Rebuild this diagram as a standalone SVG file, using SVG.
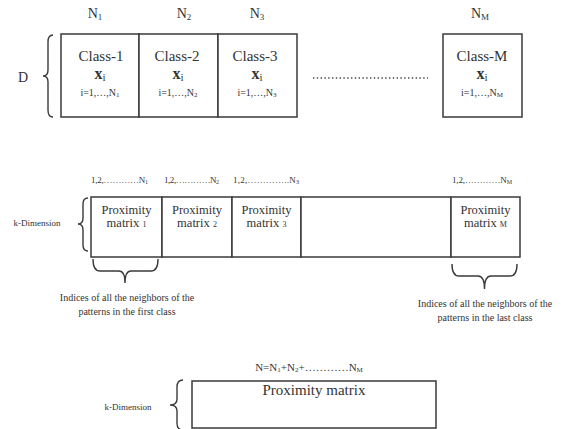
<svg xmlns="http://www.w3.org/2000/svg" width="563" height="429" viewBox="0 0 563 429">
<style>
.box{fill:#fff;stroke:#3a3a3a;stroke-width:1.5}
.br{fill:none;stroke:#3a3a3a;stroke-width:1.4}
</style>
<rect width="563" height="429" fill="#fff"/>

<g id="top-labels" fill="#333" font-family="Liberation Serif" font-size="14" text-anchor="middle">
<text font-family="Liberation Serif" x="95" y="18">N<tspan font-size="9" dy="2">1</tspan></text>
<text font-family="Liberation Serif" x="184" y="18">N<tspan font-size="9" dy="2">2</tspan></text>
<text font-family="Liberation Serif" x="257" y="18">N<tspan font-size="9" dy="2">3</tspan></text>
<text font-family="Liberation Serif" x="480" y="18">N<tspan font-size="9" dy="2">M</tspan></text>
<text font-family="Liberation Serif" x="23" y="82">D</text>
</g>

<g id="class1" fill="#333" font-family="Liberation Serif" text-anchor="middle">
<rect class="box" x="61" y="34" width="78" height="83"/>
<text font-family="Liberation Serif" font-size="15" x="101" y="61">Class-1</text>
<text font-family="Liberation Serif" font-size="16" font-weight="bold" x="100" y="79">x<tspan font-size="11" font-weight="normal" dy="2">i</tspan></text>
<text font-family="Liberation Serif" font-size="10" x="100" y="96">i=1,…,N<tspan font-size="7" dy="1">1</tspan></text>
</g>
<g id="class2" fill="#333" font-family="Liberation Serif" text-anchor="middle">
<rect class="box" x="139" y="34" width="79" height="83"/>
<text font-family="Liberation Serif" font-size="15" x="177" y="61">Class-2</text>
<text font-family="Liberation Serif" font-size="16" font-weight="bold" x="178" y="79">x<tspan font-size="11" font-weight="normal" dy="2">i</tspan></text>
<text font-family="Liberation Serif" font-size="10" x="178" y="96">i=1,…,N<tspan font-size="7" dy="1">2</tspan></text>
</g>
<g id="class3" fill="#333" font-family="Liberation Serif" text-anchor="middle">
<rect class="box" x="218" y="34" width="79" height="83"/>
<text font-family="Liberation Serif" font-size="15" x="255" y="61">Class-3</text>
<text font-family="Liberation Serif" font-size="16" font-weight="bold" x="257" y="79">x<tspan font-size="11" font-weight="normal" dy="2">i</tspan></text>
<text font-family="Liberation Serif" font-size="10" x="257" y="96">i=1,…,N<tspan font-size="7" dy="1">3</tspan></text>
</g>
<g id="classM" fill="#333" font-family="Liberation Serif" text-anchor="middle">
<rect class="box" x="443" y="34" width="79" height="83"/>
<text font-family="Liberation Serif" font-size="15" x="482" y="61">Class-M</text>
<text font-family="Liberation Serif" font-size="16" font-weight="bold" x="482" y="79">x<tspan font-size="11" font-weight="normal" dy="2">i</tspan></text>
<text font-family="Liberation Serif" font-size="10" x="482" y="96">i=1,…,N<tspan font-size="7" dy="1">M</tspan></text>
</g>

<g id="mid-labels" fill="#333" font-family="Liberation Serif" font-size="9">
<text font-family="Liberation Serif" x="91" y="183" textLength="57" lengthAdjust="spacing">1,2,…………N<tspan font-size="6" dy="1">1</tspan></text>
<text font-family="Liberation Serif" x="164" y="183" textLength="55" lengthAdjust="spacing">1,2,…………N<tspan font-size="6" dy="1">2</tspan></text>
<text font-family="Liberation Serif" x="233" y="183" textLength="66" lengthAdjust="spacing">1,2,…………..N<tspan font-size="6" dy="1">3</tspan></text>
<text font-family="Liberation Serif" x="452" y="183" textLength="60" lengthAdjust="spacing">1,2,…………N<tspan font-size="6" dy="1">M</tspan></text>
<text font-family="Liberation Serif" x="37" y="226" text-anchor="middle">k-Dimension</text>
</g>

<g id="pm1" fill="#333" font-family="Liberation Serif" font-size="12.5" text-anchor="middle">
<rect class="box" x="91" y="197" width="71" height="60"/>
<text font-family="Liberation Serif" x="126.5" y="214">Proximity</text>
<text font-family="Liberation Serif" x="126.5" y="227">matrix <tspan font-size="8">1</tspan></text>
</g>
<g id="pm2" fill="#333" font-family="Liberation Serif" font-size="12.5" text-anchor="middle">
<rect class="box" x="162" y="197" width="70" height="60"/>
<text font-family="Liberation Serif" x="197" y="214">Proximity</text>
<text font-family="Liberation Serif" x="197" y="227">matrix <tspan font-size="8">2</tspan></text>
</g>
<g id="pm3" fill="#333" font-family="Liberation Serif" font-size="12.5" text-anchor="middle">
<rect class="box" x="232" y="197" width="69" height="60"/>
<text font-family="Liberation Serif" x="266.5" y="214">Proximity</text>
<text font-family="Liberation Serif" x="266.5" y="227">matrix <tspan font-size="8">3</tspan></text>
</g>
<g id="pm-gap">
<rect class="box" x="301" y="197" width="150" height="60"/>
</g>
<g id="pmM" fill="#333" font-family="Liberation Serif" font-size="12.5" text-anchor="middle">
<rect class="box" x="451" y="197" width="69" height="60"/>
<text font-family="Liberation Serif" x="485.5" y="214">Proximity</text>
<text font-family="Liberation Serif" x="485.5" y="227">matrix <tspan font-size="8">M</tspan></text>
</g>

<g id="annotations" fill="#333" font-family="Liberation Serif" font-size="10" text-anchor="middle">
<text font-family="Liberation Serif" x="127" y="301">Indices of all the neighbors of the</text>
<text font-family="Liberation Serif" x="127" y="315">patterns in the first class</text>
<text font-family="Liberation Serif" x="485" y="307">Indices of all the neighbors of the</text>
<text font-family="Liberation Serif" x="485" y="321">patterns in the last class</text>
</g>

<g id="bottom" fill="#333" font-family="Liberation Serif" text-anchor="middle">
<text font-family="Liberation Serif" x="309" y="371" font-size="11">N=N<tspan font-size="7" dy="1">1</tspan><tspan dy="-1">+N</tspan><tspan font-size="7" dy="1">2</tspan><tspan dy="-1">+…………N</tspan><tspan font-size="7" dy="1">M</tspan></text>
<rect class="box" x="192" y="381" width="244" height="47"/>
<text font-family="Liberation Serif" x="314" y="395" font-size="15">Proximity matrix</text>
<text font-family="Liberation Serif" x="128" y="410" font-size="9">k-Dimension</text>
</g>

<g id="connectors">
<line x1="313" y1="78" x2="428" y2="78" stroke="#444" stroke-width="1.3" stroke-dasharray="1.4 2.4"/>
<path class="br" d="M53,35 Q48,35 48,42 L48,70 Q48,76 43,76 Q48,76 48,82 L48,110 Q48,117 53,117"/>
<path class="br" d="M88,198 Q83,198 83,204 L83,218 Q83,224 78,224 Q83,224 83,230 L83,245 Q83,251 88,251"/>
<path class="br" d="M183,380 Q177,380 177,387 L177,399 Q177,405 170,405 Q177,405 177,411 L177,423 Q177,430 183,430"/>
<path class="br" d="M93,259 Q93,271 100,271 L119,271 Q125,271 125,283 Q125,271 131,271 L151,271 Q158,271 158,259"/>
<path class="br" d="M452,264 Q452,276 459,276 L478,276 Q484.5,276 484.5,289 Q484.5,276 491,276 L510,276 Q517,276 517,264"/>
</g>
</svg>
